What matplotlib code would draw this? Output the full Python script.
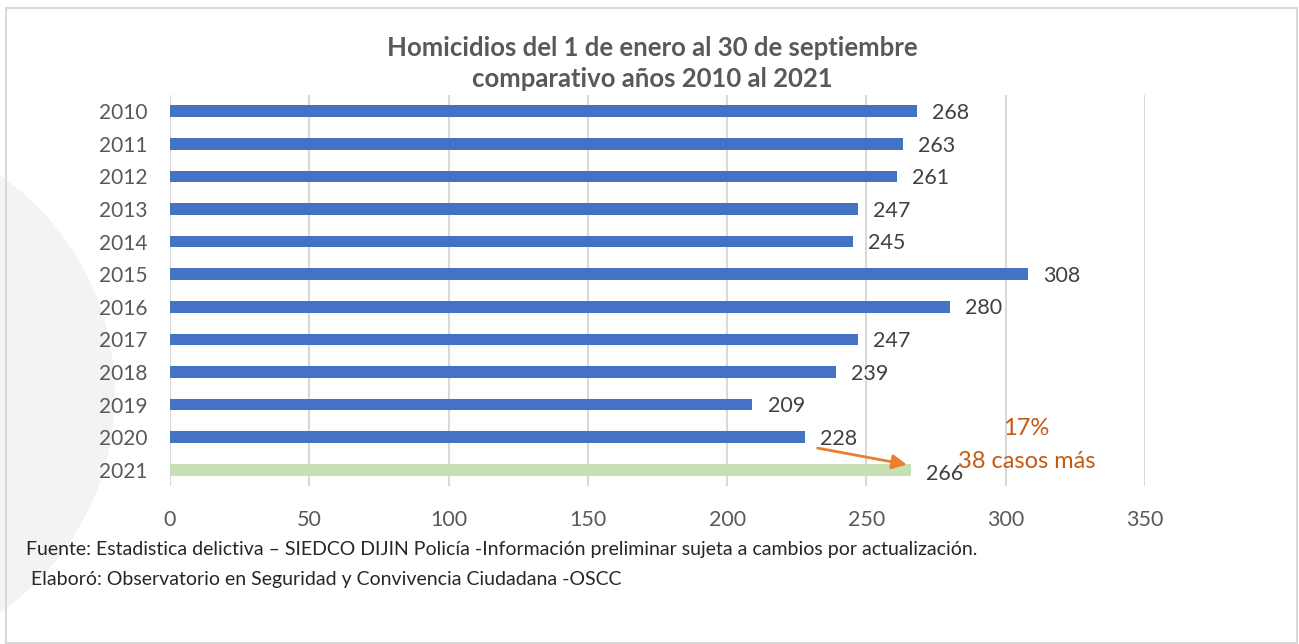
import matplotlib.pyplot as plt
from matplotlib.patches import Rectangle, Wedge

years = ['2010', '2011', '2012', '2013', '2014', '2015', '2016', '2017', '2018', '2019', '2020', '2021']
homicidios = [268, 263, 261, 247, 245, 308, 280, 247, 239, 209, 228, 266]
xticks = [0, 50, 100, 150, 200, 250, 300, 350]

plt.rcParams['font.family'] = ['Lato', 'DejaVu Sans']

W, H = 1299, 644
fig = plt.figure(figsize=(W / 100, H / 100), dpi=100, facecolor='white')

# faint ring watermark on the left (pixel coords, y from bottom)
ring = Wedge((-150, 250), 265, -90, 90, width=130, facecolor='#f4f2f2',
             edgecolor='none', transform=None, zorder=-2)
fig.patches.append(ring)

# border of the chart area
border = Rectangle((6 / W, 1 / H), 1291 / W, 635 / H, transform=fig.transFigure,
                   fill=False, edgecolor='#d9d9d9', lw=1.5)
fig.patches.append(border)

ax = fig.add_axes([170 / W, (H - 486) / H, 975 / W, 391 / H])
ax.set_facecolor('none')

colors = ['#4472c4'] * (len(years) - 1) + ['#c5e0b4']
pos = list(range(len(years)))
ax.barh(pos, homicidios, height=0.36, color=colors, zorder=3)
ax.set_ylim(len(years) - 0.5, -0.5)
ax.set_xlim(0, 350)

ax.set_yticks(pos)
ax.set_yticklabels(years, fontsize=15, color='#595959')
ax.set_xticks(xticks)
ax.set_xticklabels([str(t) for t in xticks], fontsize=15.5, color='#595959')
ax.tick_params(length=0)
ax.tick_params(axis='y', pad=16)
ax.tick_params(axis='x', pad=17)
ax.grid(axis='x', color='#d9d9d9', lw=1.5, zorder=0)
for s in ax.spines.values():
    s.set_visible(False)

for i, v in enumerate(homicidios):
    dy = 0.12 if i == len(years) - 1 else 0.05
    ax.text(v + 5.5, i + dy, str(v), va='center', ha='left', fontsize=15.5,
            color='#404040', zorder=4)

# annotation arrow 2020 -> 2021
ax.annotate('', xy=(265.5, 10.86), xytext=(231.5, 10.32),
            arrowprops=dict(arrowstyle='-|>', color='#ed7d31', lw=2,
                            mutation_scale=22), zorder=5)
ax.text(307.5, 9.72, '17%', ha='center', va='center', fontsize=17, color='#c55a11', zorder=5)
ax.text(307.5, 10.74, '38 casos más', ha='center', va='center', fontsize=17,
        color='#c55a11', zorder=5)

fig.text(652 / W, 1 - 48 / H, 'Homicidios del 1 de enero al 30 de septiembre',
         ha='center', va='center', fontsize=18.5, fontweight='bold', color='#595959')
fig.text(652 / W, 1 - 79 / H, 'comparativo años 2010 al 2021',
         ha='center', va='center', fontsize=18.5, fontweight='bold', color='#595959')

fig.text(26 / W, 1 - 549 / H,
         'Fuente: Estadistica delictiva – SIEDCO DIJIN Policía -Información preliminar sujeta a cambios por actualización.',
         ha='left', va='center', fontsize=14, color='#262626')
fig.text(31 / W, 1 - 579 / H,
         'Elaboró: Observatorio en Seguridad y Convivencia Ciudadana -OSCC',
         ha='left', va='center', fontsize=14, color='#262626')

fig.savefig('out.png', dpi=100, facecolor='white')
